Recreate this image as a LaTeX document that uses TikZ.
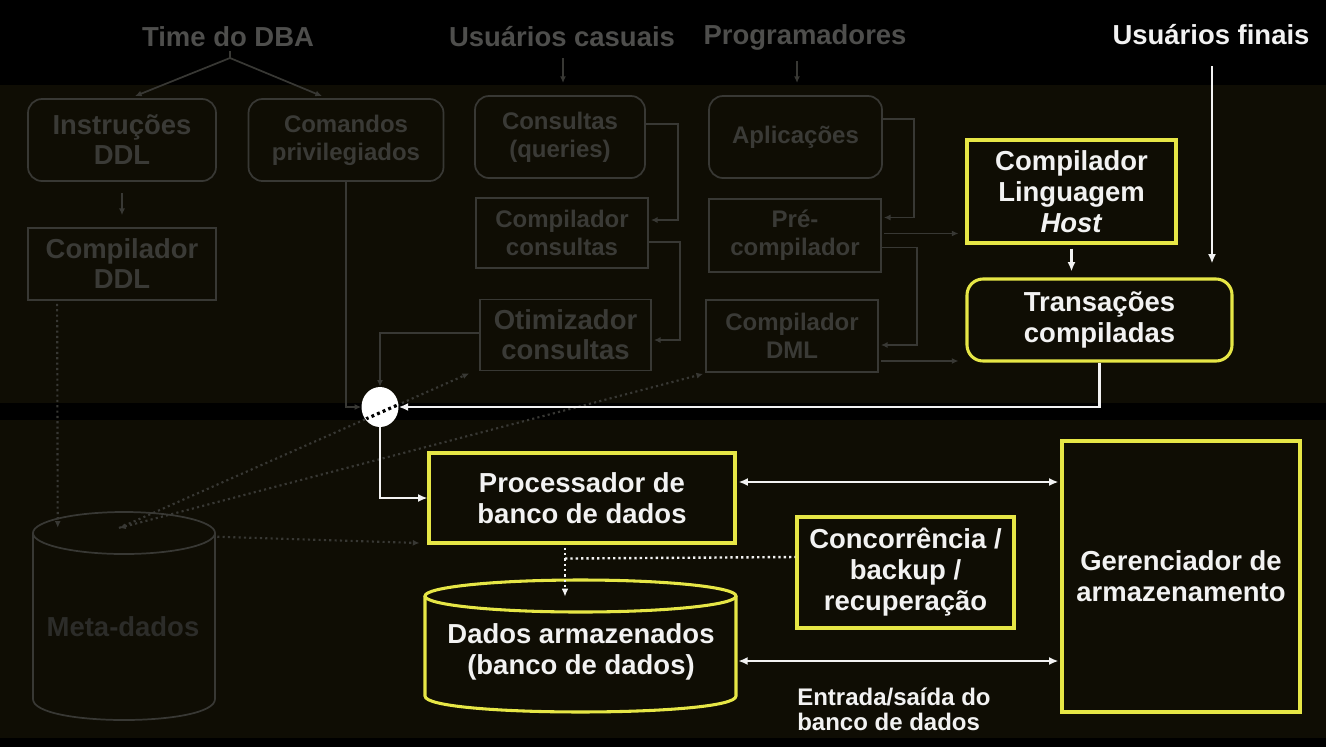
\documentclass[tikz,border=0pt]{standalone}
\usepackage{fontspec}
\setmainfont{Liberation Sans}
\usetikzlibrary{arrows.meta,calc,shapes.geometric}
\definecolor{panel}{RGB}{15,13,4}
\definecolor{fadeline}{RGB}{56,56,52}
\definecolor{fadetext}{RGB}{58,58,54}
\definecolor{toplab}{RGB}{78,78,76}
\definecolor{metatext}{RGB}{44,44,41}
\definecolor{ylw}{RGB}{230,230,70}
\definecolor{wtext}{RGB}{242,242,242}
\newcommand\fbig{\bfseries\fontsize{20.6}{22.5}\selectfont}
\newcommand\fsmall{\bfseries\fontsize{18}{21}\selectfont}
\newcommand\fwhite{\bfseries\fontsize{20.6}{23.3}\selectfont}
\newcommand\fio{\bfseries\fontsize{18}{18.8}\selectfont}
\begin{document}
\begin{tikzpicture}[x=0.75pt,y=-0.75pt,
  sz/.style 2 args={minimum width={#1*0.75pt},minimum height={#2*0.75pt}},
  fbox/.style={draw=fadeline,line width=1.3pt,text=fadetext,align=center,inner sep=0pt,font=\fbig},
  fsm/.style={font=\fsmall},
  frnd/.style={fbox,rounded corners=10.5pt},
  ybox/.style={draw=ylw,line width=2.3pt,text=wtext,align=center,inner sep=0pt,font=\fwhite},
  toplabel/.style={text=toplab,font=\fbig,inner sep=0pt},
  farr/.style={draw=fadeline,line width=1.3pt,-{Latex[length=5pt,width=4.5pt]}},
  fdot/.style={draw=fadeline,line width=1.6pt,dash pattern=on 1.6pt off 2.4pt},
  warr/.style={draw=wtext,line width=2.2pt,-{Latex[length=7pt,width=6pt]}},
  wdarr/.style={draw=wtext,line width=2.2pt,{Latex[length=7pt,width=6pt]}-{Latex[length=7pt,width=6pt]}},
  wdot/.style={draw=wtext,line width=1.8pt,dash pattern=on 1.8pt off 2.2pt}]
\useasboundingbox (0,0) rectangle (1326,747);
\fill[black] (0,0) rectangle (1326,747);
\fill[panel] (0,85) rectangle (1326,403);
\fill[panel] (0,420) rectangle (1326,738);

% top labels
\node[toplabel] (dba) at (228,37) {Time do DBA};
\node[toplabel] (usc) at (562,37) {Usuários casuais};
\node[toplabel] (prog) at (805,37) {Programadores};
\node[toplabel,text=wtext] (usf) at (1211,35) {Usuários finais};

% faded boxes
\node[frnd,sz={188}{82}] (instr) at (122,140) {Instruções\\DDL};
\node[frnd,fsm,sz={195}{82}] (cmd) at (346,140) {Comandos\\privilegiados};
\node[fbox,sz={188}{72}] (cddl) at (122,264) {Compilador\\DDL};
\node[frnd,fsm,sz={170}{82}] (cons) at (560,137) {Consultas\\(queries)};
\node[fbox,fsm,sz={172}{70}] (ccons) at (562,233) {Compilador\\consultas};
\node[fbox,sz={171}{71}] (otim) at (565.5,335) {Otimizador\\consultas};
\node[frnd,fsm,sz={173}{82}] (apl) at (795.5,137) {Aplicações};
\node[fbox,fsm,sz={172}{73}] (prec) at (795,235.5) {Pré-\\compilador};
\node[fbox,fsm,sz={172}{72}] (cdml) at (792,336) {Compilador\\DML};

% yellow boxes
\node[ybox,sz={209}{103}] (host) at (1071.5,191.5) {Compilador\\Linguagem\\\textit{Host}};
\node[ybox,rounded corners=12pt,sz={265}{82}] (trans) at (1099.5,320) {Transações\\compiladas};
\node[ybox,sz={306}{90}] (proc) at (582,498) {Processador de\\banco de dados};
\node[ybox,sz={217}{111}] (conc) at (905.5,572.5) {Concorrência /\\backup /\\recuperação};
\node[ybox,sz={238}{271}] (ger) at (1181,576.5) {Gerenciador de\\armazenamento};

% meta-dados cylinder
\node[inner sep=0pt,sz={182}{208}] (meta) at (124,616) {};
\draw[fadeline,line width=1.3pt] (33,533) -- (33,699) .. controls (33,727) and (215,727) .. (215,699) -- (215,533);
\draw[fadeline,line width=1.3pt] (124,533) ellipse [x radius=91,y radius=21];
\node[text=metatext,font=\fbig,inner sep=0pt] (metat) at (123,627) {Meta-dados};

% dados armazenados cylinder
\node[inner sep=0pt,sz={311}{132}] (dados) at (580.5,646) {};
\draw[ylw,line width=2.3pt] (425,596) -- (425,696) .. controls (425,717.3) and (736,717.3) .. (736,696) -- (736,596);
\draw[ylw,line width=2.3pt] (580.5,596) ellipse [x radius=155.5,y radius=16];
\node[text=wtext,font=\fwhite,align=center,inner sep=0pt] (dadost) at (581,652) {Dados armazenados\\(banco de dados)};

\node[anchor=west,text=wtext,font=\fio,align=left,inner sep=0pt] (io) at (797,709) {Entrada/saída do\\banco de dados};

% faded connectors
\coordinate (dbafork) at (230,58);
\draw[fadeline,line width=1.3pt] ($(dba.south)+(2,4)$) -- (dbafork);
\draw[farr] (dbafork) -- ($(instr.north)+(13,-2)$);
\draw[farr] (dbafork) -- ($(cmd.north)+(-24,-2)$);
\coordinate (uscin) at (563,83);
\coordinate (progin) at (797,83);
\draw[farr] ($(usc.south)+(1,11)$) -- (uscin);
\draw[farr] ($(prog.south)+(-8,11)$) -- (progin);
\draw[farr] ($(instr.south)+(0,11)$) -- ($(cddl.north)+(0,-12)$);
\draw[farr] ($(cons.east)+(0,-13)$) -- ++(32,0) |- ($(ccons.east)+(2,-13)$);
\draw[farr] ($(ccons.east)+(0,9)$) -- ++(31,0) |- ($(otim.east)+(2,5)$);
\draw[farr] ($(apl.east)+(0,-18)$) -- ++(31,0) |- ($(prec.east)+(2,-18)$);
\draw[farr] ($(prec.east)+(0,12)$) -- ++(35,0) |- ($(cdml.east)+(2,9)$);
\draw[farr] ($(prec.east)+(2,-2)$) -- ($(host.west)+(-7,42)$);
\draw[farr] ($(cdml.east)+(2,25)$) -- ($(trans.west)+(-7,41)$);

% gray dotted connectors
\coordinate (mtop) at (119,528);
\coordinate (otimin) at ($(otim.south west)+(-10,2)$);
\draw[fdot,-{Latex[length=5pt,width=4.5pt]}] (mtop) -- (otimin);
\draw[fdot,{Latex[length=5pt,width=4.5pt]}-{Latex[length=5pt,width=4.5pt]}] (mtop) -- ($(cdml.south west)+(-2,1)$);
\draw[fdot,-{Latex[length=5pt,width=4.5pt]}] ($(meta.north east)+(2,25)$) -- ($(proc.west)+(-8,45)$);
\draw[fdot,-{Latex[length=5pt,width=4.5pt]}] ($(cddl.south west)+(30,3)$) -- ($(meta.north west)+(25,16)$);

% junction circle
\node[ellipse,fill=white,inner sep=0pt,minimum width={37*0.75pt},minimum height={40*0.75pt}] (circ) at (380,407) {};
\begin{scope}
\clip (circ.center) ellipse [x radius=17.5,y radius=19];
\draw[black,line width=2.4pt,dash pattern=on 2.2pt off 2.4pt] (mtop) -- (otimin);
\end{scope}

\draw[farr] (cmd.south) |- (circ.west);
\draw[farr] ($(otim.west)+(0,-2)$) -| (circ.north);

% white connectors
\draw[warr] ($(usf.south)+(1,21)$) -- ($(usf.south |- trans.north)+(1,-14)$);
\draw[warr] ($(host.south)+(0,4)$) -- ($(host.south |- trans.north)+(0,-6)$);
\draw[warr] (trans.south) |- (circ.east);
\draw[warr] (circ.south) |- (proc.west);
\draw[wdarr] ($(proc.east)+(2,-16)$) -- ($(proc.east -| ger.west)+(-2,-16)$);
\draw[wdarr] ($(dados.east)+(2,15)$) -- ($(dados.east -| ger.west)+(-2,15)$);
\draw[wdot,-{Latex[length=6pt,width=5pt]}] ($(proc.south)+(-17,3)$) -- ($(dados.north)+(-15.5,17)$);
\draw[wdot] ($(proc.south)+(-17,14)$) -- ($(conc.west)+(0,-15.5)$);
\end{tikzpicture}
\end{document}
